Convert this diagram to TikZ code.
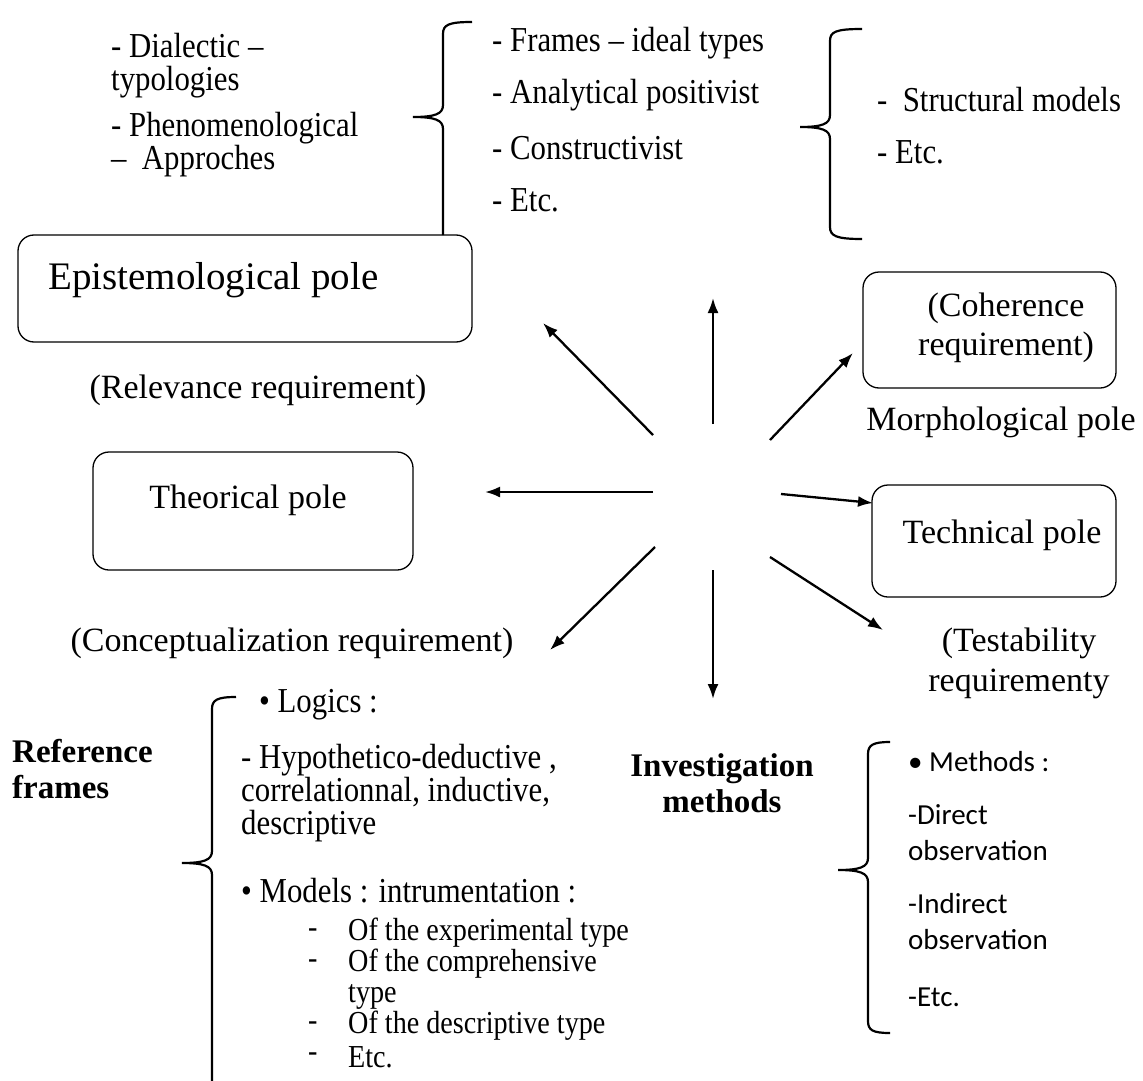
\documentclass[tikz,border=0pt]{standalone}
\usepackage{fontspec}
\setmainfont{Liberation Serif}
\newfontfamily\narrowserif{Liberation Serif}[FakeStretch=0.88]
\newfontfamily\calibrifont{Carlito}
\usepackage{tikz}
\usetikzlibrary{arrows.meta}
\usetikzlibrary{calc}
\newcommand{\poletext}{\fontsize{34}{39}\selectfont}
\newcommand{\bigpoletext}{\fontsize{39}{44}\selectfont}
\newcommand{\itemtext}{\narrowserif\fontsize{35}{33}\selectfont}
\newcommand{\subtext}{\narrowserif\fontsize{32}{31}\selectfont}
\newcommand{\labtext}{\bfseries\fontsize{33}{36}\selectfont}
\newcommand{\methtext}{\calibrifont\fontsize{29}{36}\selectfont}
\tikzstyle{pole}=[draw, line width=1.3pt, rounded corners=16pt, inner sep=0pt]
\tikzstyle{spoke}=[-{Latex[length=15pt,width=11pt]}, line width=2.3pt]
\tikzstyle{bracestroke}=[line width=2.2pt]
\tikzstyle{req}=[font=\poletext, inner sep=0pt, align=center]
\tikzstyle{lst}=[font=\itemtext, inner sep=0pt, anchor=west, align=left]
\tikzstyle{sub}=[font=\subtext, inner sep=0pt, anchor=west, align=left]
\tikzstyle{meth}=[font=\methtext, inner sep=0pt, anchor=west, align=left]
% x, top, middle, bottom, top hook, bottom hook
\newcommand{\sidebrace}[6]{
\draw[bracestroke] (#1+#5,#2) .. controls (#1+5,#2) and (#1,#2+3) .. (#1,#2+12)
	-- (#1,#3-12) .. controls (#1,#3-3) and (#1-8,#3) .. (#1-30,#3)
	.. controls (#1-8,#3) and (#1,#3+3) .. (#1,#3+12)
	-- (#1,#4-12) .. controls (#1,#4-3) and (#1+#6/5,#4) .. (#1+#6,#4);
}

\begin{document}
\begin{tikzpicture}[x=1pt,y=-1pt]
\useasboundingbox (0,0) rectangle (1143,1081);
% top lists
\node[lst] (dial) at (111,66) {- Dialectic –\\typologies};
\node[lst] (phen) at (111,145) {- Phenomenological\\–\ \ Approches};
\foreach \t [count=\i] in {- Frames – ideal types, - Analytical positivist, - Constructivist, - Etc.}
	\node[lst] (fr\i) at (492,{43+52.5*(\i-1)}) {\t};
\node[lst] (st1) at (877,100) {-\ \ Structural models};
\node[lst] (st2) at (877,152) {- Etc.};
\sidebrace{443}{22}{117}{235}{29}{0}
\sidebrace{830}{29}{127}{239}{32}{32}
% poles
\node[pole, minimum width=454pt, minimum height=107pt] (epiBox) at (245,288.5) {};
\node[font=\bigpoletext, inner sep=0pt, anchor=west] (epiText) at (48,280) {Epistemological pole};
\node[req] (relText) at (258,390) {(Relevance requirement)};
\node[pole, minimum width=320pt, minimum height=118pt] (theoBox) at (253,511) {};
\node[req] (theoText) at (248,500) {Theorical pole};
\node[req] (conText) at (292,643) {(Conceptualization requirement)};
\node[pole, minimum width=253pt, minimum height=116pt] (morphBox) at (989.5,330) {};
\node[req] (morphText) at (1006,327.5) {(Coherence\\requirement)};
\node[req] (morphLab) at (1001,422) {Morphological pole};
\node[pole, minimum width=244pt, minimum height=112pt] (techBox) at (994,541) {};
\node[req] (techText) at (1002,535) {Technical pole};
\node[req, font=\fontsize{34}{40}\selectfont] (testText) at (1019,663) {(Testability\\requirementy};
% spokes
\coordinate (sNW) at (653,435);  \coordinate (tNW) at (543,323);
\coordinate (sN) at (713,424);   \coordinate (tN) at (713,298);
\coordinate (sNE) at (770,440);  \coordinate (tNE) at (853,353);
\coordinate (sW) at (653,492);   \coordinate (tW) at (485,492);
\coordinate (sE) at (781,494);   \coordinate (tE) at (873,503);
\coordinate (sSW) at (655,547);  \coordinate (tSW) at (550,650);
\coordinate (sS) at (713,570);   \coordinate (tS) at (713,699);
\coordinate (sSE) at (770,557);  \coordinate (tSE) at (883,630);
\foreach \d in {NW,N,NE,W,E,SW,S,SE}
	\draw[spoke] (s\d) -- (t\d);
% reference frames
\node[font=\labtext, inner sep=0pt, anchor=west, align=left] (refLab) at (12,769.5) {Reference\\frames};
\sidebrace{212}{697}{863}{1110}{24}{0}
\node[lst] (logics) at (259,705) {\textbullet\ Logics :};
\node[lst] (hypo) at (241,793) {- Hypothetico-deductive ,\\correlationnal, inductive,\\descriptive};
\node[lst] (models) at (241,891) {\textbullet\ Models : intrumentation :};
\foreach \y/\t [count=\i] in {933/Of the experimental type, 1026/Of the descriptive type, 1057/Etc.}
	\node[sub] (mod\i) at (348,\y) {\t};
\node[sub] (modc) at (348,979.5) {Of the comprehensive\\type};
\foreach \y [count=\i] in {933,964,1026,1057}
	\node[sub] (dash\i) at (308,\y) {-};
% investigation methods
\node[font=\labtext, inner sep=0pt, align=center] (invLab) at (722,783) {Investigation\\methods};
\sidebrace{868}{742}{870}{1033}{22}{22}
\node[meth] (meth) at (908,762) {\textbullet\ Methods :};
\node[meth] (dirObs) at (908,833) {-Direct\\observation};
\node[meth] (indObs) at (908,922) {-Indirect\\observation};
\node[meth] (methEtc) at (908,997) {-Etc.};
\end{tikzpicture}
\end{document}
